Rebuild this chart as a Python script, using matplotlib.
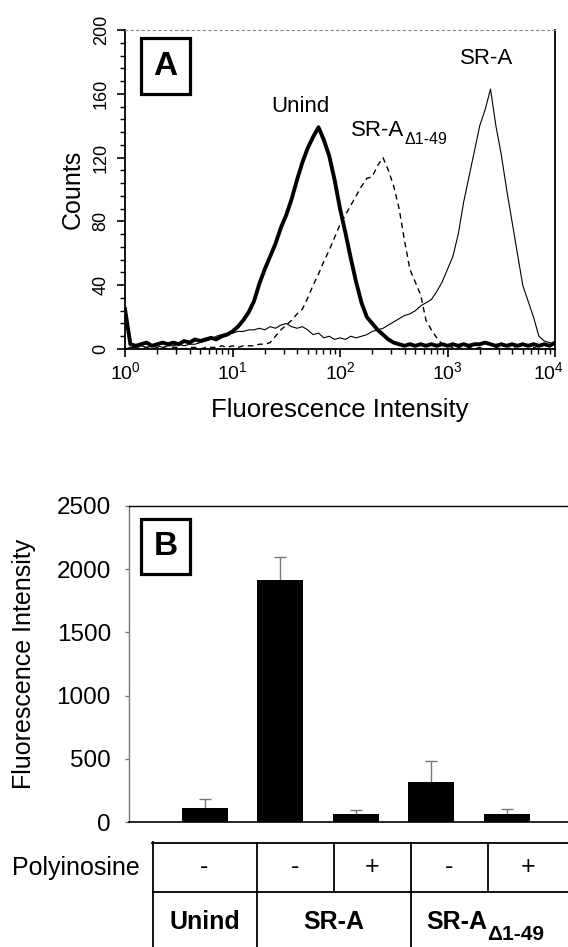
import numpy as np
import matplotlib
matplotlib.use("Agg")
import matplotlib.pyplot as plt
import matplotlib.transforms as mtransforms
from matplotlib.patches import Rectangle
from matplotlib.ticker import MultipleLocator, LogLocator, NullFormatter

plt.rcParams['font.family'] = ['Liberation Sans', 'DejaVu Sans']

# --- panel A: flow cytometry histograms (counts per channel, channel in decades) ---
log_channel = [round(0.05 * i, 2) for i in range(81)]

unind_counts = [25, 3, 2, 3, 4, 2, 3, 4, 3, 4, 3, 5, 4, 6, 5, 6, 7, 6, 8, 9,
                11, 14, 18, 23, 30, 41, 50, 58, 66, 76, 84, 94, 106, 117, 126, 133, 139, 131, 121, 106,
                88, 73, 57, 42, 29, 20, 16, 12, 9, 6, 4, 3, 2, 3, 2, 3, 2, 3, 2, 3,
                2, 3, 2, 3, 2, 3, 3, 4, 3, 2, 3, 2, 3, 2, 3, 2, 3, 2, 3, 2,
                4]
sra_counts = [0, 1, 1, 2, 1, 2, 2, 1, 2, 2, 3, 2, 3, 3, 4, 5, 6, 8, 9, 10,
              10, 11, 11, 12, 12, 13, 12, 14, 13, 15, 16, 14, 13, 14, 12, 9, 10, 7, 8, 6,
              7, 6, 8, 7, 8, 9, 11, 12, 13, 15, 17, 19, 21, 22, 24, 27, 29, 31, 36, 42,
              50, 58, 72, 92, 108, 124, 140, 150, 163, 140, 122, 100, 80, 60, 40, 30, 20, 8, 5, 4,
              3]
d149_counts = [0, 0, 1, 0, 1, 0, 1, 1, 0, 1, 1, 0, 1, 1, 0, 1, 1, 1, 2, 1,
               2, 1, 2, 2, 2, 3, 3, 4, 8, 12, 15, 18, 22, 25, 32, 40, 47, 55, 62, 70,
               78, 84, 90, 96, 102, 107, 108, 115, 120, 112, 102, 88, 68, 50, 42, 34, 18, 12, 7, 3,
               2, 1, 1, 0, 1, 0, 1, 0, 0, 1, 0, 0, 1, 0, 0, 0, 1, 0, 0, 0,
               0]

# --- panel B: mean fluorescence intensity ---
bar_values = [110, 1915, 63, 316, 63]
bar_errors = [72, 185, 34, 164, 40]
polyinosine = ['-', '-', '+', '-', '+']
cell_lines = ['Unind', 'SR-A', 'SR-A']

W, H = 568, 947
fig = plt.figure(figsize=(W / 100, H / 100), dpi=100)

# ---------------- A ----------------
ax = fig.add_axes([125 / W, 1 - 349 / H, 430 / W, 319 / H])
intensity = 10 ** np.array(log_channel)
ax.plot(intensity, sra_counts, color='black', lw=0.8)
ax.plot(intensity, d149_counts, color='black', lw=1.0, ls=(0, (4, 3)))
ax.plot(intensity, unind_counts, color='black', lw=2.8)
ax.set_xscale('log')
ax.set_xlim(1, 1e4)
ax.set_ylim(0, 200)
ax.yaxis.set_major_locator(MultipleLocator(40))
ax.yaxis.set_minor_locator(MultipleLocator(8))
ax.xaxis.set_major_locator(LogLocator(base=10))
ax.xaxis.set_minor_locator(LogLocator(base=10, subs=np.arange(2, 10)))
ax.xaxis.set_minor_formatter(NullFormatter())
ax.tick_params(which='major', direction='out', length=6, width=1.2, labelsize=14, pad=3)
ax.tick_params(which='minor', direction='out', length=3.5, width=1.0)
ax.tick_params(axis='y', labelsize=13, pad=5)
for lbl in ax.get_yticklabels():
    lbl.set_rotation(90)
    lbl.set_va('center')
for s in ['left', 'right', 'bottom']:
    ax.spines[s].set_linewidth(1.3)
ax.spines['top'].set_linestyle((0, (2, 3)))
ax.spines['top'].set_color('#888888')
ax.spines['top'].set_linewidth(0.8)
ax.set_ylabel('Counts', fontsize=18)
ax.yaxis.set_label_coords(-0.093, 0.5)
ax.set_xlabel('Fluorescence Intensity', fontsize=18.5)
ax.xaxis.set_label_coords(0.5, -0.154)

ax.text(43, 152, 'Unind', fontsize=16, ha='center', va='center')
t = ax.text(126, 137, 'SR-A', fontsize=16, ha='left', va='center')
ax.annotate('\u03941-49', xy=(1, 0.05), xycoords=t, xytext=(0, 0),
            textcoords='offset points', fontsize=11.5, ha='left', va='center')
ax.text(10 ** 3.36, 182, 'SR-A', fontsize=16, ha='center', va='center')

ax.add_patch(Rectangle((0.037, 0.799), 0.114, 0.176, transform=ax.transAxes,
                       fill=False, lw=2.3, ec='black', clip_on=False))
ax.text(0.094, 0.887, 'A', transform=ax.transAxes, fontsize=24,
        fontweight='bold', ha='center', va='center')

# ---------------- B ----------------
bx = fig.add_axes([129 / W, 1 - 822 / H, 439 / W, 316 / H])
pos = np.arange(1, len(bar_values) + 1)
bx.bar(pos, bar_values, width=0.61, color='black', zorder=3)
eb = bx.errorbar(pos, bar_values, yerr=[[0] * len(bar_errors), bar_errors], fmt='none',
                 ecolor='#777777', elinewidth=1.0, capsize=4.5, capthick=1.0, zorder=2)
# only the upper cap is drawn in the original
for cap in eb[1]:
    if np.allclose(cap.get_ydata(), bar_values):
        cap.set_visible(False)
bx.set_xlim(0, 5.81)
bx.set_ylim(0, 2500)
bx.set_yticks(range(0, 2501, 500))
bx.set_xticks([])
bx.tick_params(axis='y', direction='out', length=3, width=1, color='#777777',
               labelsize=17.5, pad=10)
bx.spines['right'].set_visible(False)
bx.spines['left'].set_color('#777777')
bx.spines['left'].set_linewidth(1.0)
bx.spines['top'].set_linewidth(1.0)
bx.spines['bottom'].set_linewidth(1.2)
bx.spines['bottom'].set_zorder(4)
bx.set_ylabel('Fluorescence Intensity', fontsize=18)
bx.yaxis.set_label_coords(-0.212, 0.5)

bx.add_patch(Rectangle((0.0273, 0.785), 0.1116, 0.174, transform=bx.transAxes,
                       fill=False, lw=2.3, ec='black', clip_on=False))
bx.text(0.0831, 0.872, 'B', transform=bx.transAxes, fontsize=24,
        fontweight='bold', ha='center', va='center')

# ---------------- table under B ----------------
tx = fig.add_axes([152 / W, 0, 416 / W, (H - 842) / H])
tx.set_xlim(0, 416)
tx.set_ylim(105, 0)
tx.axis('off')
row1_edges = [0, 105, 182, 259, 336, 416]
row2_edges = [0, 105, 259, 416]
lw_t = 1.3
tx.plot([0, 416], [0.5, 0.5], color='black', lw=lw_t, clip_on=False)
tx.plot([0, 416], [50, 50], color='black', lw=lw_t)
tx.plot([0.5, 0.5], [0, 105], color='black', lw=lw_t, clip_on=False)
for e in row1_edges[1:-1]:
    tx.plot([e, e], [0, 50], color='black', lw=lw_t)
for e in row2_edges[1:-1]:
    tx.plot([e, e], [50, 105], color='black', lw=lw_t)
for i, lab in enumerate(polyinosine):
    cx = (row1_edges[i] + row1_edges[i + 1]) / 2
    tx.text(cx, 25, lab, fontsize=18, ha='center', va='center')
for i, lab in enumerate(cell_lines[:2]):
    cx = (row2_edges[i] + row2_edges[i + 1]) / 2
    tx.text(cx, 80, lab, fontsize=18, fontweight='bold', ha='center', va='center')
t2 = tx.text(305, 80, cell_lines[2], fontsize=18, fontweight='bold', ha='center', va='center')
tx.annotate('\u03941-49', xy=(1, 0.0), xycoords=t2, xytext=(0, 0),
            textcoords='offset points', fontsize=15, fontweight='bold', ha='left', va='center')

fig.text(139.5 / W, 1 - 868 / H, 'Polyinosine', fontsize=18, ha='right', va='center')

# keep the 10^4 label inside the picture, as in the original
fig.canvas.draw()
shift = mtransforms.ScaledTranslation(-7 / 100, 0, fig.dpi_scale_trans)
for tick in ax.xaxis.get_major_ticks():
    if abs(tick.get_loc() - 1e4) < 1:
        tick.label1.set_transform(tick.label1.get_transform() + shift)

fig.savefig('out.png', dpi=100)
